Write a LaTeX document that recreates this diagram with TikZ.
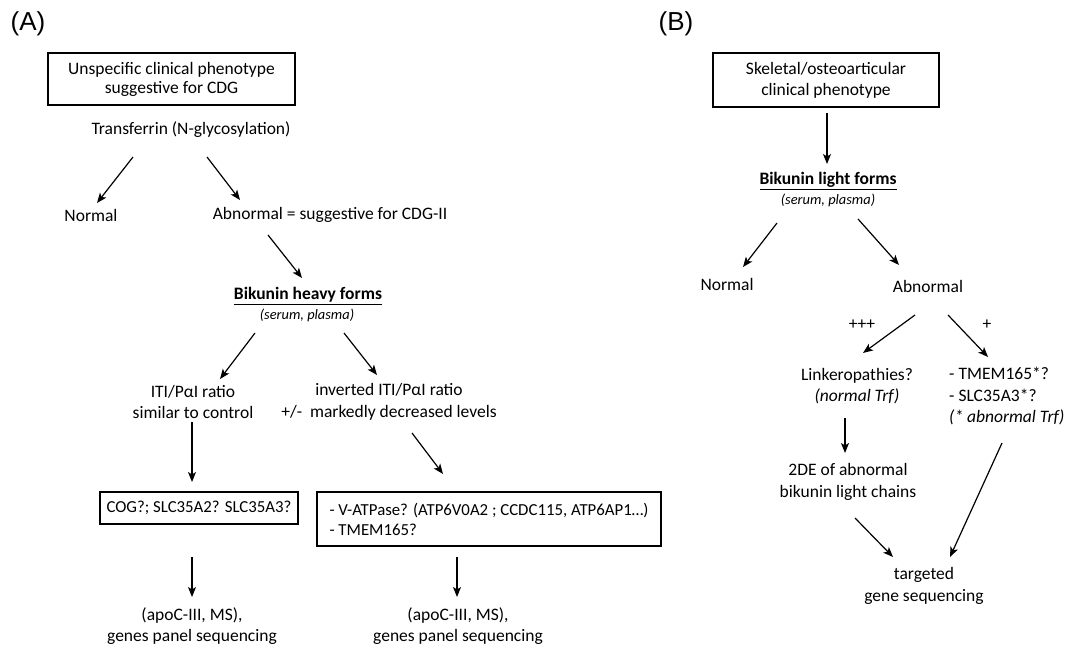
\documentclass[tikz,border=0pt]{standalone}
\usepackage{fontspec}
\setmainfont{Carlito}
\newfontfamily\panelfont{Liberation Sans}
\usetikzlibrary{arrows.meta}
\tikzset{
  arrow/.style={line width=1.2pt,-{Stealth[length=10pt,width=8pt,inset=2.5pt]}},
  txt/.style={inner sep=0pt, align=center, font=\fontsize{17.5}{21.5}\selectfont},
  title/.style={inner sep=0pt, font=\fontsize{17.5}{20}\selectfont\bfseries},
  sample/.style={inner sep=0pt, font=\fontsize{14.4}{17}\selectfont\itshape},
  panel/.style={inner sep=0pt, font=\panelfont\fontsize{26}{30}\selectfont},
  box/.style={draw, line width=1.1pt, inner sep=0pt, align=center, font=\fontsize{17.5}{21}\selectfont},
}

\begin{document}
\begin{tikzpicture}[x=1pt, y=-1pt]
    \useasboundingbox (0,0) rectangle (1067,650);

    % Panel (A)
    \node[panel] (labA) at (28,24) {(A)};
    \node[box, minimum width=247, minimum height=52, font=\fontsize{17.5}{19}\selectfont] (boxA) at (171.5,79) {Unspecific clinical phenotype\\suggestive for CDG};
    \node[txt] (trf) at (191,130) {Transferrin (N-glycosylation)};
    \node[txt] (normA) at (91,215) {Normal};
    \node[txt] (abnA) at (330,215) {Abnormal = suggestive for CDG-II};
    \node[title] (bikH) at (308,296) {\underline{Bikunin heavy forms}};
    \node[sample] (bikHs) at (307,315) {(serum, plasma)};
    \node[txt] (itiA) at (193,402) {ITI/PαI ratio\\similar to control};
    \node[txt] (invA) at (389,402) {inverted ITI/PαI ratio\\+/-\ \ markedly decreased levels};
    \node[box, minimum width=198, minimum height=32, font=\fontsize{16.8}{20}\selectfont] (cogA) at (199,508) {COG?; SLC35A2? SLC35A3?};
    \node[box, align=left, minimum width=344, minimum height=54, font=\fontsize{16.8}{20}\selectfont] (vatA) at (489,519) {- V-ATPase? (ATP6V0A2 ; CCDC115, ATP6AP1…)\\- TMEM165?};
    \node[txt] (apoL) at (192,626) {(apoC-III, MS),\\genes panel sequencing};
    \node[txt] (apoR) at (458,626) {(apoC-III, MS),\\genes panel sequencing};

    \draw[arrow] ([shift={(-58,27)}]trf.center) -- ([shift={(6,-12)}]normA.center);
    \draw[arrow] ([shift={(16,27)}]trf.center) -- ([shift={(-90,-15)}]abnA.center);
    \draw[arrow] ([shift={(-62,20)}]abnA.center) -- ([shift={(-6,-18)}]bikH.center);
    \draw[arrow] ([shift={(-52,18)}]bikHs.center) -- ([shift={(27,-23)}]itiA.center);
    \draw[arrow] ([shift={(37,18)}]bikHs.center) -- ([shift={(-12,-27)}]invA.center);
    \draw[arrow] ([shift={(-1,20)}]itiA.center) -- ([shift={(-7,-26)}]cogA.center);
    \draw[arrow] ([shift={(23,31)}]invA.center) -- ([shift={(-46,-45)}]vatA.center);
    \draw[arrow] ([shift={(-7,49)}]cogA.center) -- ([shift={(0,-29)}]apoL.center);
    \draw[arrow] ([shift={(-32,38)}]vatA.center) -- ([shift={(-1,-29)}]apoR.center);

    % Panel (B)
    \node[panel] (labB) at (676,24) {(B)};
    \node[box, minimum width=226, minimum height=54] (boxB) at (826,80) {Skeletal/osteoarticular\\clinical phenotype};
    \node[title] (bikL) at (828,181) {\underline{Bikunin light forms}};
    \node[sample] (bikLs) at (828,200) {(serum, plasma)};
    \node[txt] (normB) at (727,284) {Normal};
    \node[txt] (abnB) at (928,286) {Abnormal};
    \node[txt] (ppp) at (862,325) {+++};
    \node[txt] (plus) at (987,325) {+};
    \node[txt] (link) at (857,386) {Linkeropathies?\\\textit{(normal Trf)}};
    \node[txt, align=left, anchor=west] (tmem) at (949,396) {- TMEM165*?\\- SLC35A3*?\\\textit{(* abnormal Trf)}};
    \node[txt] (twoDE) at (848,482) {2DE of abnormal\\bikunin light chains};
    \node[txt] (targ) at (924,586) {targeted\\gene sequencing};

    \draw[arrow] ([shift={(1,33)}]boxB.center) -- ([shift={(-1,-17)}]bikL.center);
    \draw[arrow] ([shift={(-51,23)}]bikLs.center) -- ([shift={(16,-17)}]normB.center);
    \draw[arrow] ([shift={(30,19)}]bikLs.center) -- ([shift={(-29,-21)}]abnB.center);
    \draw[arrow] ([shift={(-13,29)}]abnB.center) -- ([shift={(6,-33)}]link.center);
    \draw[arrow] ([shift={(20,29)}]abnB.center) -- ([shift={(39,-39)}]tmem.west);
    \draw[arrow] ([shift={(-12,32)}]link.center) -- ([shift={(-3,-29)}]twoDE.center);
    \draw[arrow] ([shift={(7,36)}]twoDE.center) -- ([shift={(-31,-29)}]targ.center);
    \draw[arrow] ([shift={(53,47)}]tmem.west) -- ([shift={(26,-29)}]targ.center);
\end{tikzpicture}
\end{document}
